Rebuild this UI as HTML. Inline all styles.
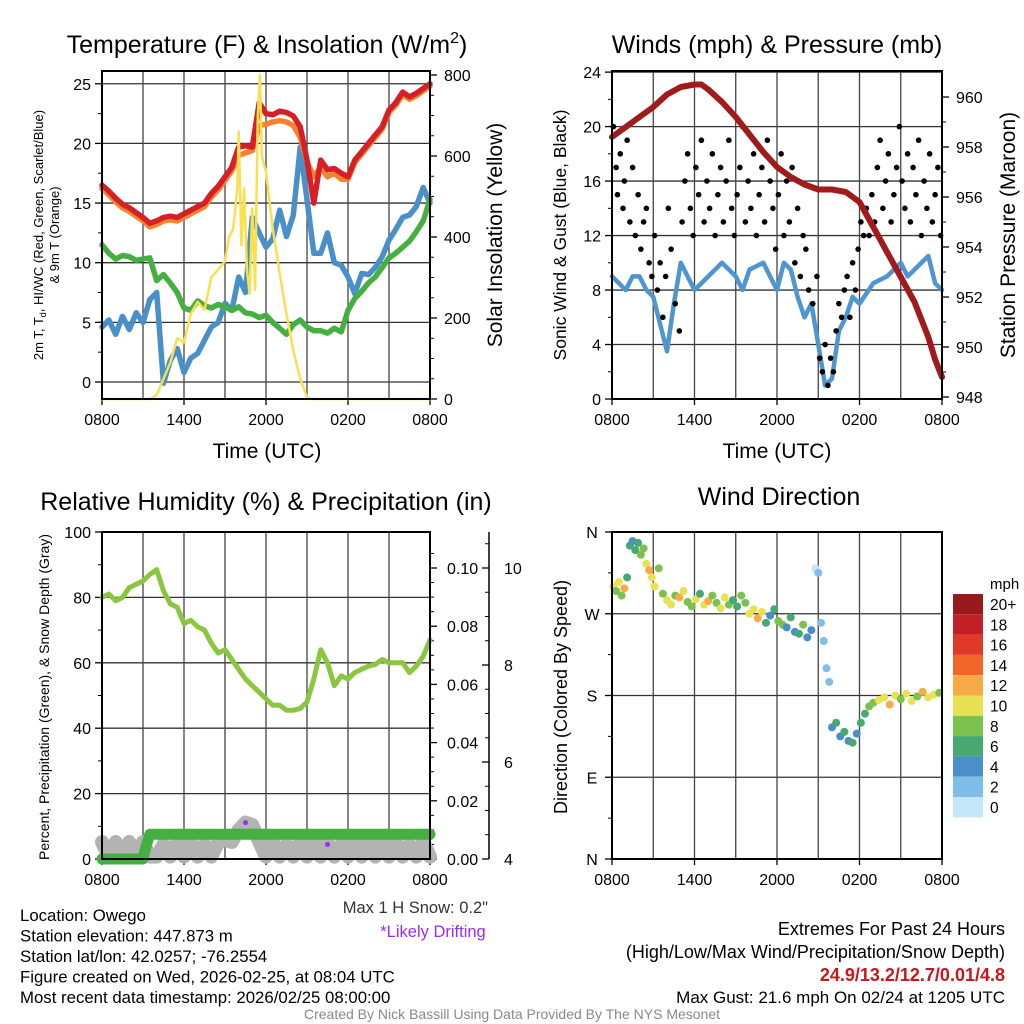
<!DOCTYPE html>
<html><head><meta charset="utf-8"><style>
body{margin:0;background:#fff;}
svg{display:block;font-family:"Liberation Sans",Arial,sans-serif;}
</style></head><body>
<svg id="c" width="1024" height="1024" viewBox="0 0 1024 1024"></svg>
<script>
// ---------- DATA ----------
const halfHours=[0,0.5,1,1.5,2,2.5,3,3.5,4,4.5,5,5.5,6,6.5,7,7.5,8,8.5,9,9.5,10,10.5,11,11.5,12,12.5,13,13.5,14,14.5,15,15.5,16,16.5,17,17.5,18,18.5,19,19.5,20,20.5,21,21.5,22,22.5,23,23.5,24];
const tempRed=[16.5,16.0,15.4,14.9,14.6,14.2,13.8,13.3,13.5,13.8,13.9,13.8,14.1,14.4,14.7,15.0,15.8,16.4,17.2,18.0,19.7,19.8,19.7,23.4,22.5,22.4,22.7,22.6,22.3,21.4,18.6,15.0,18.6,17.8,17.9,17.5,17.2,18.6,19.3,20.0,20.7,21.4,22.8,23.4,24.3,23.9,24.2,24.6,25.0];
const temp9mOrange=[16.2,15.7,15.1,14.6,14.3,13.9,13.5,13.0,13.2,13.5,13.6,13.5,13.8,14.1,14.4,14.7,15.5,16.1,16.9,17.7,19.0,19.2,19.4,21.5,21.6,21.8,21.9,21.8,21.5,20.5,18.5,17.2,18.0,17.2,17.5,17.0,17.0,18.4,19.1,19.8,20.5,21.2,22.6,23.2,24.1,23.7,24.0,24.4,24.8];
const dewGreen=[11.5,10.8,10.3,10.6,10.5,10.2,10.3,10.4,8.5,9.0,8.3,7.5,6.2,6.0,6.8,6.4,6.2,6.5,6.3,6.0,6.3,5.8,5.7,5.4,5.6,5.0,4.5,4.0,4.8,5.2,4.6,4.3,4.3,4.1,4.5,4.2,6.0,7.0,7.6,8.3,8.8,9.6,10.4,10.8,11.3,11.8,12.6,13.5,15.3];
const chillBlue=[4.6,5.2,4.0,5.5,4.4,5.8,5.0,6.9,7.5,-0.1,1.8,2.8,0.8,2.0,2.4,3.5,4.6,5.0,6.6,6.0,8.8,7.5,13.8,12.5,11.3,12.0,14.4,12.2,14.0,19.7,15.3,10.8,10.8,12.5,10.0,9.8,8.8,7.4,9.1,9.0,9.6,10.5,11.9,12.8,13.8,14.0,14.7,16.3,15.0];
const solarT=[0,3.5,4,4.5,5,5.5,6,6.5,7,7.5,8,8.5,9,9.3,9.6,9.9,10.0,10.2,10.4,10.6,10.8,11.0,11.2,11.4,11.55,11.7,12.0,12.5,13,13.5,14,14.5,15,15.3,24];
const solarV=[0,0,10,50,90,150,140,210,240,220,300,320,340,400,420,520,660,380,520,320,260,470,270,700,800,600,560,420,310,210,120,50,5,0,0];
const tempTicks=[0,5,10,15,20,25];
const solarTicks=[0,200,400,600,800];
const timeLabels=["0800","1400","2000","0200","0800"];

const windT=[0,0.5,1,1.5,2,2.5,3,3.5,4,4.5,5,5.5,6,7,8,9,9.5,10,11,11.5,12,12.5,13,13.5,14,14.5,15,15.5,16,16.5,17,17.5,18,19,20,20.5,21,21.5,22,23,23.5,24];
const windV=[9,8.5,8,9,9,8,7.5,5.5,3.5,7,10,9,8,9,10,9,8,9.5,10,9,8,10,9.5,7.5,6,7,4,1,1.5,5,6,7.5,7,8.5,9,9.5,10,9,9.5,10.5,8.5,8];
const gustT=[0.1,0.3,0.4,0.6,0.8,0.9,
1.1,1.3,1.5,1.7,1.9,2.1,2.3,2.5,2.7,2.9,
3.1,3.3,3.5,3.7,3.9,4.1,4.3,
4.6,4.9,
5.1,5.3,5.5,5.7,5.9,6.1,6.3,6.5,6.7,6.9,
7.1,7.3,7.5,7.7,7.9,8.1,8.3,8.5,8.7,8.9,
9.1,9.3,9.5,9.7,9.9,10.1,10.3,10.5,10.7,10.9,
11.1,11.3,11.5,11.7,11.9,12.1,12.3,12.5,12.7,12.9,
13.1,13.3,13.5,13.7,13.9,14.1,14.3,
14.6,14.9,
15.1,15.3,15.5,15.7,15.9,16.1,16.3,16.5,16.7,16.9,
17.1,17.3,17.5,17.7,17.9,18.1,18.3,18.5,18.7,18.9,
19.1,19.3,19.5,19.7,19.9,20.1,20.3,20.5,20.7,20.9,
21.1,21.3,21.5,21.7,21.9,22.1,22.3,22.5,22.7,22.9,
23.1,23.3,23.5,23.7,23.9];
const gustV=[20,17,15,18,14,16,
19,13,17,12,15,11,13,14,10,9,
12,8,10,6,9,14,11,
7,5,
13,16,18,14,12,17,15,19,13,16,
14,18,12,15,17,13,16,19,14,12,
15,17,20,13,16,14,18,12,15,17,
13,19,16,14,11,15,18,12,16,13,
17,10,14,9,12,11,8,
7,9,
3,2,4,1,3,2,5,7,6,8,
9,6,10,8,11,13,12,14,12,15,
13,17,19,14,16,18,13,15,17,20,
16,14,18,13,17,15,19,12,16,14,
18,13,15,17,12];
const presT=[0,1,2,3,4,5,6,6.5,7,8,9,10,11,12,13,14,15,16,17,18,19,20,21,22,23,23.5,24];
const presV=[958.4,958.8,959.2,959.6,960.1,960.4,960.5,960.5,960.3,959.8,959.2,958.5,957.8,957.2,956.8,956.5,956.3,956.3,956.2,955.8,954.8,953.8,952.8,951.8,950.4,949.5,948.8];
const windTicks=[0,4,8,12,16,20,24];
const presTicks=[948,950,952,954,956,958,960];

const rhV=[80,81,79,80,83,84,85,87,88.5,82,78,77,72,73,71,70,66,63,64,61,58,55,53,51,49,47,47,45.5,45.5,46,48,55,64,60,53,56,55,57,58,59,59.5,61,60,60,60,57,59,62,67];
const precipT=[0,3,3.2,3.5,24];
const precipV=[0,0,0.004,0.0085,0.0085];
const snowV=[4.35,4.05,4.35,4.05,4.35,4.05,4.35,4.05,4.05,4.3,4.05,4.35,4.05,4.35,4.05,4.3,4.05,4.35,4.4,4.35,4.6,4.75,4.7,4.35,4.05,4.35,4.05,4.3,4.05,4.35,4.05,4.35,4.05,4.35,4.05,4.3,4.05,4.35,4.05,4.35,4.05,4.35,4.05,4.35,4.05,4.3,4.05,4.35,4.05];
const drift=[[10.5,4.75],[16.5,4.3]];
const rhTicks=[0,20,40,60,80,100];
const precipTicks=["0.00","0.02","0.04","0.06","0.08","0.10"];
const snowTicks=[4,6,8,10];

const dirT=[0.1,0.3,0.5,0.7,0.9,1.1,1.3,1.5,1.7,1.9,2.1,2.3,2.5,2.7,2.9,3.1,3.4,3.7,4.0,4.3,4.6,4.9,5.2,5.5,5.8,6.1,6.4,6.7,7.0,7.3,7.6,7.9,8.2,8.5,8.8,9.1,9.4,9.7,10.0,10.3,10.6,10.9,11.2,11.5,11.8,12.1,12.4,12.7,13.0,13.3,13.6,13.9,14.2,14.5,14.8,15.0,15.2,15.4,15.6,15.8,16.0,16.3,16.6,16.9,17.2,17.5,17.8,18.1,18.4,18.7,19.0,19.4,19.8,20.2,20.6,21.0,21.4,21.8,22.2,22.6,23.0,23.4,23.8];
const dirV=[300,295,305,290,298,310,345,350,340,348,335,342,325,318,310,300,320,292,285,280,290,288,295,283,278,286,292,280,284,290,282,276,288,280,285,278,290,282,270,275,265,272,260,268,275,262,258,255,266,250,248,258,244,252,320,315,260,240,210,195,145,150,135,140,130,128,138,150,160,168,172,175,178,170,180,176,182,174,179,184,178,181,183];
const dirS=[10,9,11,8,12,7,6,5,6,7,8,9,10,12,11,10,9,8,10,11,9,12,10,8,9,11,7,10,12,8,9,11,10,8,7,6,9,8,10,11,12,10,6,5,7,8,9,4,6,5,7,8,5,4,1,2,3,2,3,3,4,6,5,7,4,6,5,7,6,8,9,10,11,12,10,9,11,10,9,12,10,11,9];
const dirLabels=["N","E","S","W","N"];
const cbLabels=["20+","18","16","14","12","10","8","6","4","2","0"];
const cbColors=["#981a1d","#c21f26","#e0392b","#f16529","#f8aa46","#e8e155","#7cc04e","#48a872","#4a8fc7","#80bde8","#c4e6f8"];

// ---------- HELPERS ----------
const svg=document.getElementById('c');
const NS='http://www.w3.org/2000/svg';
const TK=16;
function el(tag,attrs,parent){const e=document.createElementNS(NS,tag);for(const k in attrs)e.setAttribute(k,attrs[k]);(parent||svg).appendChild(e);return e;}
function txt(x,y,s,size,anchor,parent,extra){const e=el('text',Object.assign({x:x,y:y,'font-size':size,'text-anchor':anchor||'middle',fill:'#000'},extra||{}),parent);e.textContent=s;return e;}
function grp(name){const g=el('g',{});return g;}
function poly(g,xs,ys,color,w){let d='';for(let i=0;i<xs.length;i++){d+=(i?'L':'M')+xs[i].toFixed(1)+' '+ys[i].toFixed(1);}return el('path',{d:d,fill:'none',stroke:color,'stroke-width':w,'stroke-linejoin':'round','stroke-linecap':'round'},g);}
function speedColor(s){const i=Math.min(10,Math.floor(s/2));return cbColors[10-i];}
function panel(name,L,R,T,B,hGrid,vGrid){
  const g=grp(name);
  hGrid.forEach(y=>el('line',{x1:L,x2:R,y1:y,y2:y,stroke:'#333','stroke-width':1.3},g));
  vGrid.forEach(x=>el('line',{x1:x,x2:x,y1:T,y2:B,stroke:'#444','stroke-width':1.3},g));
  return g;
}
function frame(g,L,R,T,B){el('rect',{x:L,y:T,width:R-L,height:B-T,fill:'none',stroke:'#000','stroke-width':2},g);}

// ---------- PANEL 1 ----------
(function(){
  const L=102,R=430,T=71,B=399;
  const xs=t=>L+t*(R-L)/24;
  const yT=v=>382-v*11.93;
  const yS=v=>399-v*0.405;
  const vg=[];for(let h=0;h<=24;h+=3)vg.push(xs(h));
  const g=panel('temperature-panel',L,R,T,B,tempTicks.map(yT),vg);
  tempTicks.forEach(v=>{el('line',{x1:L-7,x2:L,y1:yT(v),y2:yT(v),stroke:'#000','stroke-width':1.3},g);txt(L-11,yT(v)+6,String(v),TK,'end',g);});
  for(let v=2.5;v<26;v+=5)el('line',{x1:L-4,x2:L,y1:yT(v),y2:yT(v),stroke:'#000'},g);
  solarTicks.forEach(v=>{el('line',{x1:R,x2:R+7,y1:yS(v),y2:yS(v),stroke:'#000','stroke-width':1.3},g);txt(R+14,yS(v)+6,String(v),TK,'start',g);});
  for(let v=50;v<800;v+=50)if(v%200)el('line',{x1:R,x2:R+4,y1:yS(v),y2:yS(v),stroke:'#000'},g);
  timeLabels.forEach((s,i)=>{el('line',{x1:xs(i*6),x2:xs(i*6),y1:B,y2:B+6,stroke:'#000','stroke-width':1.3},g);txt(xs(i*6),B+26,s,TK,'middle',g);});
  const dg=grp('temperature-series');
  const blue=poly(dg,halfHours.map(xs),chillBlue.map(yT),'#4a90c8',5.5);
  const gr=poly(dg,halfHours.map(xs),dewGreen.map(yT),'#45b041',5.5);
  const o=poly(dg,halfHours.map(xs),temp9mOrange.map(yT),'#f5822f',5.5);
  const r=poly(dg,halfHours.map(xs),tempRed.map(yT),'#d62027',5.5);
  const y=poly(dg,solarT.map(xs),solarV.map(yS),'#f9e04f',2.5);
  frame(grp('temperature-frame'),L,R,T,B);
  const t=txt(267,53,'Temperature (F) & Insolation (W/m',25,'middle');
  const ts=el('tspan',{'font-size':16,dy:-10},t);ts.textContent='2';
  const ts2=el('tspan',{dy:10},t);ts2.textContent=')';
  const xt=txt(267,458,'Time (UTC)',21);
  const yt=el('text',{transform:'translate(43,235) rotate(-90)','font-size':13,'text-anchor':'middle'});
  
  yt.innerHTML='2m T, T<tspan font-size="9" dy="3">d</tspan><tspan dy="-3">, HI/WC (Red, Green, Scarlet/Blue)</tspan>';
  const yt2=el('text',{transform:'translate(59,235) rotate(-90)','font-size':13,'text-anchor':'middle'});yt2.textContent='& 9m T (Orange)';
  
  const rt=el('text',{transform:'translate(502,235) rotate(-90)','font-size':21,'text-anchor':'middle'});rt.textContent='Solar Insolation (Yellow)';
  
})();

// ---------- PANEL 2 ----------
(function(){
  const L=612,R=942,T=71,B=399;
  const xs=t=>L+t*(R-L)/24;
  const yW=v=>399-v*13.62;
  const yP=v=>397-(v-948)*25;
  const vg=[];for(let h=0;h<=24;h+=3)vg.push(xs(h));
  const g=panel('winds-panel',L,R,T,B,windTicks.slice(1).map(yW),vg);
  windTicks.forEach(v=>{el('line',{x1:L-7,x2:L,y1:yW(v),y2:yW(v),stroke:'#000','stroke-width':1.3},g);txt(L-11,yW(v)+6,String(v),TK,'end',g);});
  for(let v=2;v<24;v+=4)el('line',{x1:L-4,x2:L,y1:yW(v),y2:yW(v),stroke:'#000'},g);
  presTicks.forEach(v=>{el('line',{x1:R,x2:R+7,y1:yP(v),y2:yP(v),stroke:'#000','stroke-width':1.3},g);txt(R+14,yP(v)+6,String(v),TK,'start',g);});
  for(let v=949;v<961;v+=2)el('line',{x1:R,x2:R+4,y1:yP(v),y2:yP(v),stroke:'#000'},g);
  timeLabels.forEach((s,i)=>{el('line',{x1:xs(i*6),x2:xs(i*6),y1:B,y2:B+6,stroke:'#000','stroke-width':1.3},g);txt(xs(i*6),B+26,s,TK,'middle',g);});
  const dg=grp('winds-series');
  const w=poly(dg,windT.map(xs),windV.map(yW),'#4f95d0',4.5);
  gustT.forEach((t,i)=>{const c=el('circle',{cx:xs(t),cy:yW(gustV[i]),r:2.8,fill:'#000'},dg);
    
    });
  const p=poly(dg,presT.map(xs),presV.map(yP),'#a01c1c',6);
  frame(grp('winds-frame'),L,R,T,B);
  const t=txt(777,53,'Winds (mph) & Pressure (mb)',25);
  const xt=txt(777,458,'Time (UTC)',21);
  const yt=el('text',{transform:'translate(566,235) rotate(-90)','font-size':17.5,'text-anchor':'middle'});yt.textContent='Sonic Wind & Gust (Blue, Black)';
  
  const rt=el('text',{transform:'translate(1015,235) rotate(-90)','font-size':21,'text-anchor':'middle'});rt.textContent='Station Pressure (Maroon)';
  
})();

// ---------- PANEL 3 ----------
(function(){
  const L=102,R=430,T=532,B=859;
  const xs=t=>L+t*(R-L)/24;
  const yR=v=>859-v*3.27;
  const yPr=v=>859-v*2910;
  const ySn=v=>859-(v-4)*48.5;
  const vg=[];for(let h=0;h<=24;h+=3)vg.push(xs(h));
  const g=panel('humidity-panel',L,R,T,B,rhTicks.slice(1,5).map(yR),vg);
  rhTicks.forEach(v=>{el('line',{x1:L-7,x2:L,y1:yR(v),y2:yR(v),stroke:'#000','stroke-width':1.3},g);txt(L-11,yR(v)+6,String(v),TK,'end',g);});
  for(let v=10;v<100;v+=20)el('line',{x1:L-4,x2:L,y1:yR(v),y2:yR(v),stroke:'#000'},g);
  precipTicks.forEach((s,i)=>{const y=yPr(i*0.02);el('line',{x1:R,x2:R+7,y1:y,y2:y,stroke:'#000','stroke-width':1.3},g);txt(R+17,y+6,s,TK,'start',g);});
  for(let k=1;k<22;k++)if(k%4)el('line',{x1:R,x2:R+4,y1:yPr(k*0.005),y2:yPr(k*0.005),stroke:'#000'},g);
  el('line',{x1:489,x2:489,y1:532,y2:859,stroke:'#000','stroke-width':1.5},g);
  snowTicks.forEach(v=>{el('line',{x1:482,x2:489,y1:ySn(v),y2:ySn(v),stroke:'#000','stroke-width':1.3},g);txt(504,ySn(v)+6,String(v),TK,'start',g);});
  for(let v=4.5;v<10.7;v+=0.5)if(v%2)el('line',{x1:485,x2:489,y1:ySn(v),y2:ySn(v),stroke:'#000'},g);
  timeLabels.forEach((s,i)=>{el('line',{x1:xs(i*6),x2:xs(i*6),y1:B,y2:B+6,stroke:'#000','stroke-width':1.3},g);txt(xs(i*6),B+26,s,TK,'middle',g);});
  const dg=grp('humidity-series');
  const sn=poly(dg,halfHours.map(xs),snowV.map(ySn),'#b3b3b3',14);
  const pr=poly(dg,precipT.map(xs),precipV.map(yPr),'#45b041',11);
  const rh=poly(dg,halfHours.map(xs),rhV.map(yR),'#8ac640',5);
  drift.forEach(d=>{const c=el('circle',{cx:xs(d[0]),cy:ySn(d[1]),r:2.5,fill:'#9a2ef0'},dg);
    
    });
  frame(grp('humidity-frame'),L,R,T,B);
  const t=txt(266,510,'Relative Humidity (%) & Precipitation (in)',25);
  const yt=el('text',{transform:'translate(49,697) rotate(-90)','font-size':14,'text-anchor':'middle'});yt.textContent='Percent, Precipitation (Green), & Snow Depth (Gray)';
  
})();

// ---------- PANEL 4 ----------
(function(){
  const L=612,R=942,T=532,B=859;
  const xs=t=>L+t*(R-L)/24;
  const yD=v=>859-v*327/360;
  const vg=[];for(let h=0;h<=24;h+=3)vg.push(xs(h));
  const g=panel('wind-direction-panel',L,R,T,B,[90,180,270].map(yD),vg);
  dirLabels.forEach((s,i)=>{const y=yD(i*90);el('line',{x1:L-7,x2:L,y1:y,y2:y,stroke:'#000','stroke-width':1.3},g);txt(L-20,y+6,s,TK,'middle',g);});
  for(let v=45;v<360;v+=90)el('line',{x1:L-4,x2:L,y1:yD(v),y2:yD(v),stroke:'#000'},g);
  timeLabels.forEach((s,i)=>{el('line',{x1:xs(i*6),x2:xs(i*6),y1:B,y2:B+6,stroke:'#000','stroke-width':1.3},g);txt(xs(i*6),B+26,s,TK,'middle',g);});
  const dg=grp('wind-direction-points');
  dirT.forEach((t,i)=>{const c=el('circle',{cx:xs(t),cy:yD(dirV[i]),r:4,fill:speedColor(dirS[i])},dg);
    
    });
  frame(grp('wind-direction-frame'),L,R,T,B);
  const t=txt(779,505,'Wind Direction',25);
  const yt=el('text',{transform:'translate(567,697) rotate(-90)','font-size':18,'text-anchor':'middle'});yt.textContent='Direction (Colored By Speed)';
  
  const cb=grp('speed-colorbar');
  txt(990,589,'mph',15,'start',cb);
  cbColors.forEach((c,i)=>{const r=el('rect',{x:953,y:594+i*20.3,width:30,height:20.3,fill:c},cb);
    
    
    txt(990,594+i*20.3+16,cbLabels[i],15.5,'start',cb);});
})();

// ---------- FOOTER TEXT ----------
(function(){
  const g=grp('station-info');
  ['Location: Owego','Station elevation: 447.873 m','Station lat/lon: 42.0257; -76.2554','Figure created on Wed, 2026-02-25, at 08:04 UTC','Most recent data timestamp: 2026/02/25 08:00:00'].forEach((s,i)=>txt(20,921+i*20.5,s,16.8,'start',g));
  const s=grp('snow-notes');
  txt(488,913,'Max 1 H Snow: 0.2"',16.5,'end',s,{fill:'#333'});
  txt(433,937,'*Likely Drifting',16.5,'middle',s,{fill:'#9a2ef0'});
  const e=grp('extremes-info');
  txt(1005,935,'Extremes For Past 24 Hours',18,'end',e);
  txt(1005,958,'(High/Low/Max Wind/Precipitation/Snow Depth)',18,'end',e);
  txt(1005,981,'24.9/13.2/12.7/0.01/4.8',18,'end',e,{fill:'#c8161d','font-weight':'bold'});
  txt(1005,1003,'Max Gust: 21.6 mph On 02/24 at 1205 UTC',17,'end',e);
  txt(512,1019,'Created By Nick Bassill Using Data Provided By The NYS Mesonet',14,'middle',grp('credit'),{fill:'#888'});
})();
</script>
</body></html>
